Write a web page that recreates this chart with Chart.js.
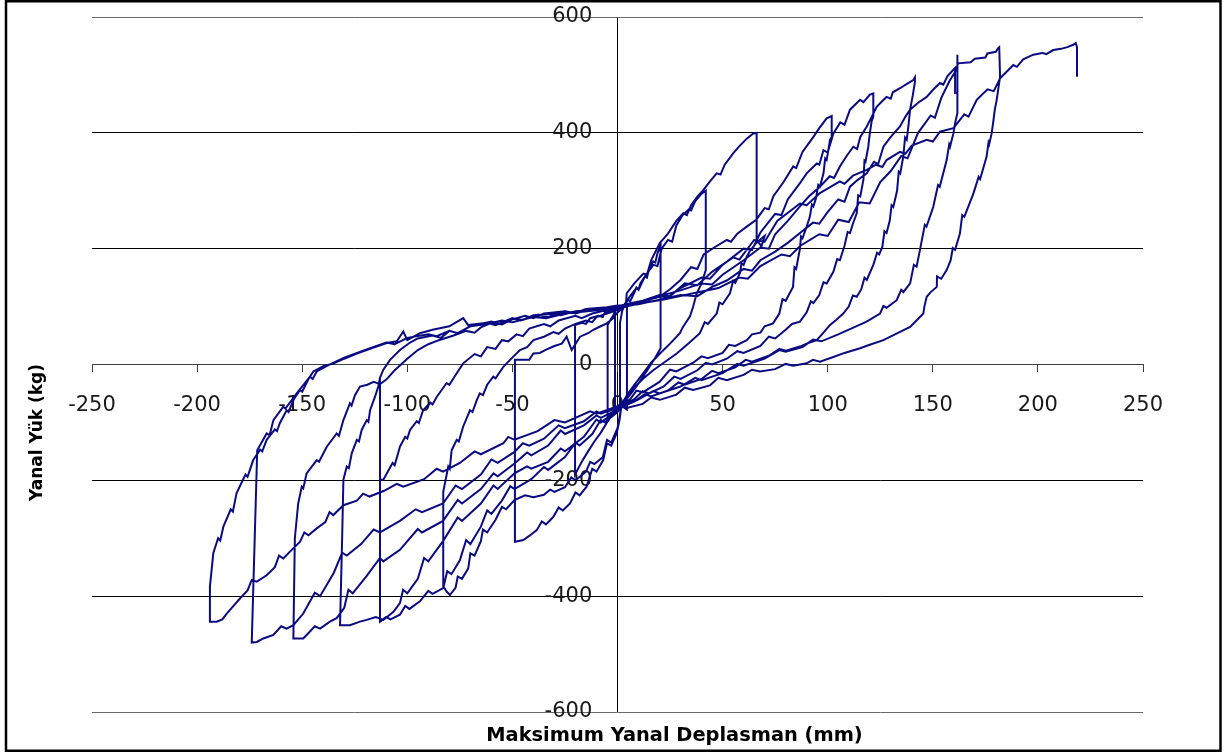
<!DOCTYPE html>
<html>
<head>
<meta charset="utf-8">
<script src="https://cdn.jsdelivr.net/npm/chart.js@4.4.1/dist/chart.umd.min.js"></script>
<style>
  html, body { margin: 0; padding: 0; background: #fff; }
  #wrap { position: relative; width: 1227px; height: 755px; }
</style>
</head>
<body>
<div id="wrap"><canvas id="c" width="1227" height="755"></canvas></div>
<script>
// Axis ticks
const xTickValues = [-250, -200, -150, -100, -50, 0, 50, 100, 150, 200, 250];
const yTickValues = [-600, -400, -200, 0, 200, 400, 600];
const xTitle = 'Maksimum Yanal Deplasman (mm)';
const yTitle = 'Yanal Yük (kg)';

// Load–displacement record, one array per loading cycle: [displacement mm, load kg]
const cycleNear0 = [[0,96],[2,100],[4.5,103],[4.5,-78],[2.5,-73],[0,-76],[-2.5,-84],[-4.7,-90],[-4.7,68],[-3.5,76],[-2,85],[-1.2,91],[-1.2,-79],[0.4,-72],[1.2,-68],[1.2,72],[2.2,92],[3,100]];

const cycle21 = [[3,100],[5,112],[6,109],[8,124],[9,133],[10,130],[11,141],[13,152],[14,150],[15,165],[17,178],[18,176],[19,192],[20.5,205],
  [20.5,28],[18,12],[15,-5],[12,-22],[9,-38],[6,-52],[3,-66],[1,-72],
  [-2,-85],[-5,-100],[-8,-118],[-11,-133],[-14,-150],[-17,-168],[-20.2,-190],
  [-20.2,68],[-17,72],[-15,70],[-13,80],[-9,84],[-7,82],[-6,90],[-3,94],[0,98],[3,102]];

const cycle42 = [[3,102],[6,118],[9,132],[10,129],[13,152],[17,172],[19,170],[21,200],[24,215],[26,212],[28,240],[31,258],[34,268],[35,266],[37,282],[40,295],[42,300],
  [42,163],[40,140],[37.7,123],[36,100],[34.5,83],[31,64],[29.7,54],[25,36],[20.2,19],[16,3],[12.3,-15],[8,-35],[5,-50],[2,-68],
  [1,-95],[-0.4,-119],[-3,-140],[-5,-136],[-6.8,-165],[-10,-185],[-12,-180],[-14.7,-211],[-18,-226],[-20,-221],[-22.6,-240],[-26,-252],[-28,-247],[-30.5,-263],[-34,-276],[-36,-271],[-38.4,-286],[-42,-296],[-44.8,-303],[-48.8,-306],
  [-48.8,8],[-42,8],[-40,19],[-37,20],[-33.7,26],[-30,32],[-26.5,36],[-24.2,48],[-21.8,25],[-19.4,39],[-17.8,48],[-14,54],[-11.5,60],[-8,66],[-5.1,71],[-2,80],[-0.4,88],[2,96],[4,104]];

const cycle66 = [[4,104],[4.4,123],[8,140],[12.3,157],[14,155],[16,180],[20.2,210],[24,226],[28,248],[31.3,261],[33,258],[35,275],[38,290],[40.8,301],[44,316],[47.2,330],[49,328],[51,345],[55.1,365],[58,377],[61.5,390],[64.6,399],[66.2,400],
  [66.2,215],[68.5,204],[70,222],[66,210],[63,196],[61.5,186],[60,172],[59,175],[58.3,158],[56,141],[55,144],[53.5,123],[50,104],[48.5,107],[47.2,88],[43,70],[41.5,73],[39.2,54],[34,37],[28.2,19],[22,3],[17,-10],[12,-25],[8,-40],[4,-57],[2,-68],
  [1,-90],[0,-110],[-3,-135],[-5,-130],[-7,-160],[-11,-172],[-13,-168],[-15,-185],[-20,-200],[-22,-195],[-25,-212],[-30,-220],[-32,-216],[-35,-225],[-40,-229],[-44,-226],[-49,-234],[-53,-250],[-55,-246],[-58,-268],[-62,-290],[-64,-285],[-65,-305],[-68,-330],[-70,-326],[-71,-352],[-74,-370],[-76,-366],[-77,-385],[-79.7,-398],[-81.3,-392],[-82.9,-383],
  [-82.9,-220],[-80.5,-176],[-79.8,-180],[-78.9,-148],[-76.5,-130],[-75.5,-133],[-73.4,-107],[-70.2,-79],[-69,-82],[-67,-62],[-65.5,-50],[-64,-53],[-62,-35],[-59.1,-21],[-58,-24],[-54.3,-4],[-51.1,8],[-46.4,25],[-43,30],[-40,42],[-35,48],[-30.5,56],[-28,53],[-25,62],[-20,70],[-15,76],[-12,73],[-10,82],[-5,88],[0,94],[4,100]];

const cycle102 = [[4,100],[10,108],[15,112],[20,117],[25,130],[30,146],[35,168],[38,165],[41,190],[46,202],[52,215],[54,212],[57,226],[61.5,238],[66,250],[70,270],[72,268],[74.1,290],[79,315],[83.6,342],[85,339],[88,367],[93.2,393],[96,408],[99.5,425],[101.9,429],
  [101.9,393],[101.1,388],[99.5,353],[98.8,356],[98,330],[96.3,307],[95.5,310],[94.5,288],[93.2,273],[92.5,276],[91.5,255],[90,238],[88,218],[87.3,221],[86.8,200],[85,165],[84.2,168],[83.5,134],[80,110],[78.5,113],[77,88],[74,71],[70,66],[68,55],[64,52],[61.5,42],[56,32],[53,34],[50,20],[43,11],[40,14],[36,3],[28,-12],[25,-9],[20,-30],[12,-48],[9,-45],[6,-60],[2,-70],
  [0,-82],[-6,-100],[-8,-96],[-12,-120],[-18,-140],[-20,-135],[-25,-160],[-33,-182],[-35,-177],[-41,-198],[-49,-215],[-51,-210],[-55,-235],[-60,-258],[-62,-252],[-65,-280],[-70,-310],[-72,-303],[-75,-338],[-79,-362],[-81,-357],[-82.9,-386],[-88,-396],[-90,-391],[-94,-409],[-99,-422],[-101,-417],[-103.5,-432],[-108,-440],[-110,-436],[-113,-444],
  [-113,-23],[-113,-199],[-111.4,-199],[-107,-170],[-106,-174],[-103.5,-142],[-101,-125],[-100,-128],[-98.7,-113],[-95.5,-98],[-94.5,-101],[-92.5,-79],[-89,-66],[-88,-69],[-86,-56],[-81.3,-32],[-80,-35],[-76.5,-15],[-73.4,2],[-68,18],[-65,14],[-62,30],[-58,27],[-55,42],[-52,40],[-48,52],[-45,49],[-42,62],[-35,70],[-32,66],[-28,76],[-20,84],[-17,80],[-12,88],[-5,94],[0,98],[4,100]];

const cycle122 = [[4,100],[10,105],[20,118],[24,116],[30,132],[40,150],[44,148],[50,172],[60,200],[64,198],[68,228],[75,260],[78,258],[81,285],[86.8,313],[90,330],[94.8,347],[96,345],[98,370],[100,366],[102.7,399],[106,418],[108,414],[110.6,440],[115.4,457],[117,453],[120.1,466],[121.7,468],
  [121.7,428],[120.9,420],[120,398],[119.3,376],[118,350],[117.5,352],[117,319],[115.5,290],[114.5,292],[113.8,261],[112,243],[110.6,227],[109.5,229],[108,205],[105.8,180],[104.5,182],[102.7,160],[99.5,140],[98,142],[96,120],[93.2,106],[92,109],[90,90],[86.8,74],[83,70],[80,60],[75,45],[72,48],[68,32],[60,20],[57,23],[52,10],[45,0],[42,3],[38,-10],[30,-25],[27,-21],[22,-38],[15,-50],[12,-46],[8,-60],[3,-70],
  [0,-80],[-8,-100],[-10,-95],[-16,-125],[-25,-150],[-27,-145],[-33,-168],[-41,-180],[-43,-176],[-49,-188],[-57,-215],[-59,-209],[-65,-240],[-74,-270],[-76,-264],[-83,-305],[-90,-340],[-92,-334],[-95,-370],[-100,-395],[-102,-389],[-103.5,-412],[-106.6,-427],[-111.4,-441],[-115,-436],[-119.3,-441],[-122.5,-444],[-127.3,-450],[-132,-450],
  [-131,-300],[-130.4,-199],[-128.8,-176],[-127.8,-179],[-126.4,-153],[-124,-130],[-123,-133],[-121.7,-113],[-119.3,-96],[-118.5,-99],[-117.7,-79],[-115.4,-56],[-113.8,-38],[-113,-23],[-111.4,-9],[-108.2,8],[-103.5,25],[-98.7,38],[-95,45],[-88,50],[-84,46],[-80,58],[-76,54],[-70,66],[-60,74],[-56,70],[-50,80],[-45,77],[-40,85],[-30,88],[-27,85],[-20,92],[-10,95],[0,100],[4,103]];

const cycle142 = [[4,103],[10,108],[20,118],[30,128],[40,140],[45,138],[50,155],[60,180],[68,202],[72,200],[75,225],[81,248],[86.8,273],[91,290],[96.3,307],[101,325],[103,322],[105.8,342],[109,360],[112.2,376],[114,372],[115.5,393],[118.6,411],[121,428],[123.3,445],[126,455],[128,462],[130,459],[131,470],[134.4,477],[137.5,484],[140.7,491],[141.5,496],
  [141.5,488],[140.5,465],[139.2,440],[138.4,412],[137.6,388],[136.8,392],[136,360],[134.5,330],[133.8,333],[133,300],[131.2,272],[130.4,275],[129.5,248],[128,227],[127,230],[126,203],[124.5,190],[123.5,193],[121.7,172],[118.6,146],[117.5,150],[116,130],[113.8,117],[112,119],[110,100],[107.4,88],[104,77],[101,68],[98,55],[94.8,42],[90,36],[86.8,31],[80,24],[77,27],[72,15],[64,5],[61,8],[56,-5],[48,-15],[45,-11],[40,-25],[32,-35],[29,-31],[24,-45],[16,-55],[13,-51],[8,-64],[3,-72],
  [0,-78],[-8,-92],[-10,-88],[-16,-105],[-25,-120],[-27,-114],[-33,-140],[-41,-157],[-43,-152],[-49,-171],[-57,-193],[-59,-188],[-65,-215],[-74,-240],[-76,-234],[-83,-270],[-93,-290],[-95,-284],[-103.5,-320],[-111.4,-340],[-113,-334],[-119.3,-365],[-126,-395],[-128,-389],[-130,-420],[-133.6,-438],[-136.8,-444],[-141.5,-456],[-144,-452],[-146.3,-461],[-149.5,-473],[-154.2,-473],
  [-153.5,-300],[-151.9,-240],[-150.2,-211],[-149.5,-214],[-147.9,-188],[-143.1,-165],[-142,-168],[-138.3,-142],[-133.6,-119],[-132.5,-123],[-130.4,-96],[-127.3,-67],[-126.5,-71],[-124.9,-53],[-122.5,-38],[-119,-35],[-116,-30],[-113,-34],[-110,-26],[-106,-10],[-100,10],[-95,25],[-90,35],[-85,42],[-78,50],[-72,58],[-68,55],[-65,64],[-60,72],[-55,69],[-50,78],[-44,84],[-40,80],[-35,88],[-25,92],[-20,89],[-15,96],[-5,99],[0,102],[4,102]];

const cycle162 = [[4,102],[10,104],[20,112],[30,120],[38,118],[45,134],[52,145],[60,165],[64,162],[68,180],[75,195],[81,210],[86.8,227],[93,245],[96,243],[99.5,261],[105,285],[108,281],[110.6,307],[114,318],[118.6,330],[122,350],[124,346],[126.5,376],[130,393],[134.4,411],[137,428],[139.2,440],[143,452],[147.1,462],[150,474],[153.4,486],[155,483],[157,498],[159.8,509],[160.6,512],[160.6,469],[161.7,470],[161.7,535],
  [161.7,434],[160.8,420],[159.8,399],[158.2,376],[157.8,380],[156.6,353],[153.3,307],[152.5,310],[150.2,272],[147,238],[146.2,241],[143.9,198],[142.3,169],[141,172],[139.2,140],[136,125],[135,129],[132.8,111],[128,98],[126.5,101],[124.9,88],[118.5,74],[113,65],[105,52],[97,40],[93,43],[88,30],[80,22],[77,25],[70,10],[60,-2],[57,1],[50,-15],[40,-27],[37,-23],[30,-38],[20,-50],[17,-46],[10,-60],[3,-72],
  [0,-75],[-8,-85],[-10,-81],[-16,-98],[-25,-110],[-28,-105],[-35,-128],[-42,-140],[-45,-136],[-49,-151],[-57,-170],[-60,-164],[-65,-190],[-74,-215],[-77,-209],[-83,-240],[-93,-255],[-96,-250],[-103.5,-270],[-113,-290],[-116,-285],[-122,-310],[-128.8,-330],[-131,-325],[-135,-360],[-141.5,-400],[-144,-394],[-149.5,-430],[-154.2,-450],[-157.4,-456],[-160,-452],[-163.7,-467],[-168.5,-473],[-171.6,-479],[-174,-480],
  [-171.4,-148],[-166.9,-119],[-165.5,-122],[-163.7,-96],[-159,-73],[-158,-76],[-152.6,-50],[-146.3,-21],[-145,-25],[-143.1,-12],[-138,-2],[-130,12],[-120,25],[-110,38],[-106,35],[-100,46],[-90,52],[-86,49],[-80,58],[-76,54],[-70,66],[-62,70],[-55,76],[-50,73],[-40,82],[-34,80],[-25,88],[-12,93],[0,98],[4,102]];

const cycle182 = [[4,102],[12,106],[22,112],[35,122],[48,132],[58,150],[62,148],[68,170],[78,190],[82,187],[87,205],[96,225],[100,222],[105,250],[110,246],[115,280],[120,278],[125,315],[130,334],[135,360],[138,356],[143,400],[149,430],[151,426],[154,460],[158,490],[160.6,505],[162,520],[168,522],[170,528],[175,530],[176,537],[180,540],[181,546],[181.6,548],
  [182,497],[180.4,457],[179.5,440],[178.8,420],[178,399],[176.8,380],[176.5,383],[175.6,359],[172.5,320],[171.8,324],[169.3,295],[165,255],[164,258],[162.9,226],[160.6,198],[159.5,201],[158.5,180],[156.6,163],[154,148],[152,152],[151.9,134],[149,125],[147.1,117],[146,100],[145.5,88],[142,75],[139.2,65],[132,52],[126.5,42],[120,34],[115.4,28],[108,20],[102.7,13],[96.3,5],[93,8],[90,2],[83.6,-2],[80,1],[75,-8],[67.8,-12],[64,-9],[60,-18],[52,-27],[48,-23],[44,-36],[36,-44],[32,-40],[28,-52],[20.2,-61],[16,-57],[12,-68],[4.4,-75],
  [0,-72],[-10,-85],[-13,-81],[-25,-100],[-30,-96],[-38,-115],[-49,-130],[-52,-125],[-54.3,-136],[-65,-155],[-68,-150],[-75,-170],[-83,-185],[-86,-180],[-92,-198],[-101.9,-211],[-105,-206],[-111,-218],[-118,-228],[-121,-223],[-124,-235],[-130.4,-243],[-135.2,-260],[-137,-255],[-139,-272],[-143.1,-283],[-147,-295],[-149,-290],[-151,-306],[-155,-320],[-159,-335],[-161,-330],[-163,-350],[-166.9,-364],[-171.6,-375],[-174,-372],[-176,-390],[-179.6,-404],[-183,-418],[-185.9,-430],[-188,-440],[-190.7,-444],[-193.9,-444],
  [-193.9,-384],[-192.3,-326],[-190,-300],[-189,-304],[-187.5,-280],[-184,-250],[-183,-254],[-181.2,-222],[-177,-190],[-176,-194],[-173.3,-165],[-170,-147],[-169,-150],[-166.9,-130],[-163,-112],[-162,-115],[-160.6,-101],[-157.4,-79],[-156.5,-82],[-154,-60],[-151,-44],[-150,-47],[-147,-25],[-144.7,-12],[-140,-3],[-135,2],[-130,10],[-124,19],[-117,28],[-109.8,37],[-105,40],[-101.9,57],[-100,42],[-94,54],[-88,60],[-80,66],[-73.4,80],[-71,68],[-62,72],[-58,68],[-50,80],[-46,76],[-38,86],[-33,82],[-25,92],[-20,88],[-12,96],[0,100],[4,104]];

const finalPush218 = [[4,104],[12,110],[20,120],[25,118],[32,140],[38,137],[45,160],[55,185],[58,181],[65,215],[70,212],[76,248],[86.8,278],[90,275],[96.3,296],[105.8,316],[108,312],[112,326],[118.6,336],[123,345],[126,341],[128,353],[134.4,367],[137,364],[140,378],[147.1,388],[150,385],[153.4,402],[159.8,408],[165,432],[167,428],[170.9,457],[176,475],[179,472],[182,494],[185,505],[188.3,517],[190,514],[193,527],[197.8,535],[202,538],[204,536],[207.3,543],[211,545],[214,548],[216.8,552],[218,555],[218.6,548],[218.6,497]];

const cycles = [cycleNear0, cycle21, cycle42, cycle66, cycle102, cycle122, cycle142, cycle162, cycle182, finalPush218];
const points = cycles.flat().map(([x, y]) => ({ x, y }));

// Frame around the figure and the two axis titles
const frameAndTitles = {
  id: 'frameAndTitles',
  beforeDraw(chart) {
    const c = chart.ctx;
    c.save();
    c.fillStyle = '#fff';
    c.fillRect(0, 0, chart.width, chart.height);
    c.restore();
  },
  afterDraw(chart) {
    const c = chart.ctx;
    c.save();
    c.strokeStyle = '#000';
    c.lineWidth = 2.5;
    c.strokeRect(6, 1.25, 1214.5, 749.5);
    c.fillStyle = '#000';
    c.textAlign = 'center';
    c.textBaseline = 'alphabetic';
    c.font = 'bold 19.4px "DejaVu Sans"';
    c.fillText(xTitle, 674.5, 741);
    c.translate(42, 432.5);
    c.rotate(-Math.PI / 2);
    c.font = 'bold 17px "DejaVu Sans"';
    c.fillText(yTitle, 0, 0);
    c.restore();
  }
};

new Chart(document.getElementById('c'), {
  type: 'scatter',
  data: {
    datasets: [{
      data: points,
      showLine: true,
      borderColor: '#0a0a82',
      borderWidth: 2,
      pointRadius: 0,
      pointHoverRadius: 0,
      tension: 0,
      fill: false
    }]
  },
  options: {
    responsive: false,
    animation: false,
    devicePixelRatio: 1,
    layout: { padding: { left: 92, right: 84, top: 17, bottom: 43 } },
    plugins: { legend: { display: false }, tooltip: { enabled: false } },
    scales: {
      x: {
        type: 'linear',
        min: -250, max: 250,
        position: { y: 0 },
        afterBuildTicks: s => { s.ticks = xTickValues.map(v => ({ value: v })); },
        ticks: { font: { family: 'DejaVu Sans', size: 21 }, color: '#1a1a1a', padding: 21, maxRotation: 0, autoSkip: false },
        grid: {
          color: ctx => (ctx.tick && ctx.tick.value === 0) ? '#000' : 'rgba(0,0,0,0)',
          tickColor: '#404040',
          tickLength: 7,
          lineWidth: 1
        },
        border: { display: true, color: '#404040', width: 1 }
      },
      y: {
        type: 'linear',
        min: -600, max: 600,
        position: { x: -12 },
        afterBuildTicks: s => { s.ticks = yTickValues.map(v => ({ value: v })); },
        ticks: { font: { family: 'DejaVu Sans', size: 21 }, color: '#1a1a1a', autoSkip: false },
        grid: {
          color: ctx => (ctx.tick && Math.abs(ctx.tick.value) === 600) ? '#6a6a6a' : '#000',
          drawTicks: false,
          lineWidth: 1
        },
        border: { display: false }
      }
    }
  },
  plugins: [frameAndTitles]
});
</script>
</body>
</html>
